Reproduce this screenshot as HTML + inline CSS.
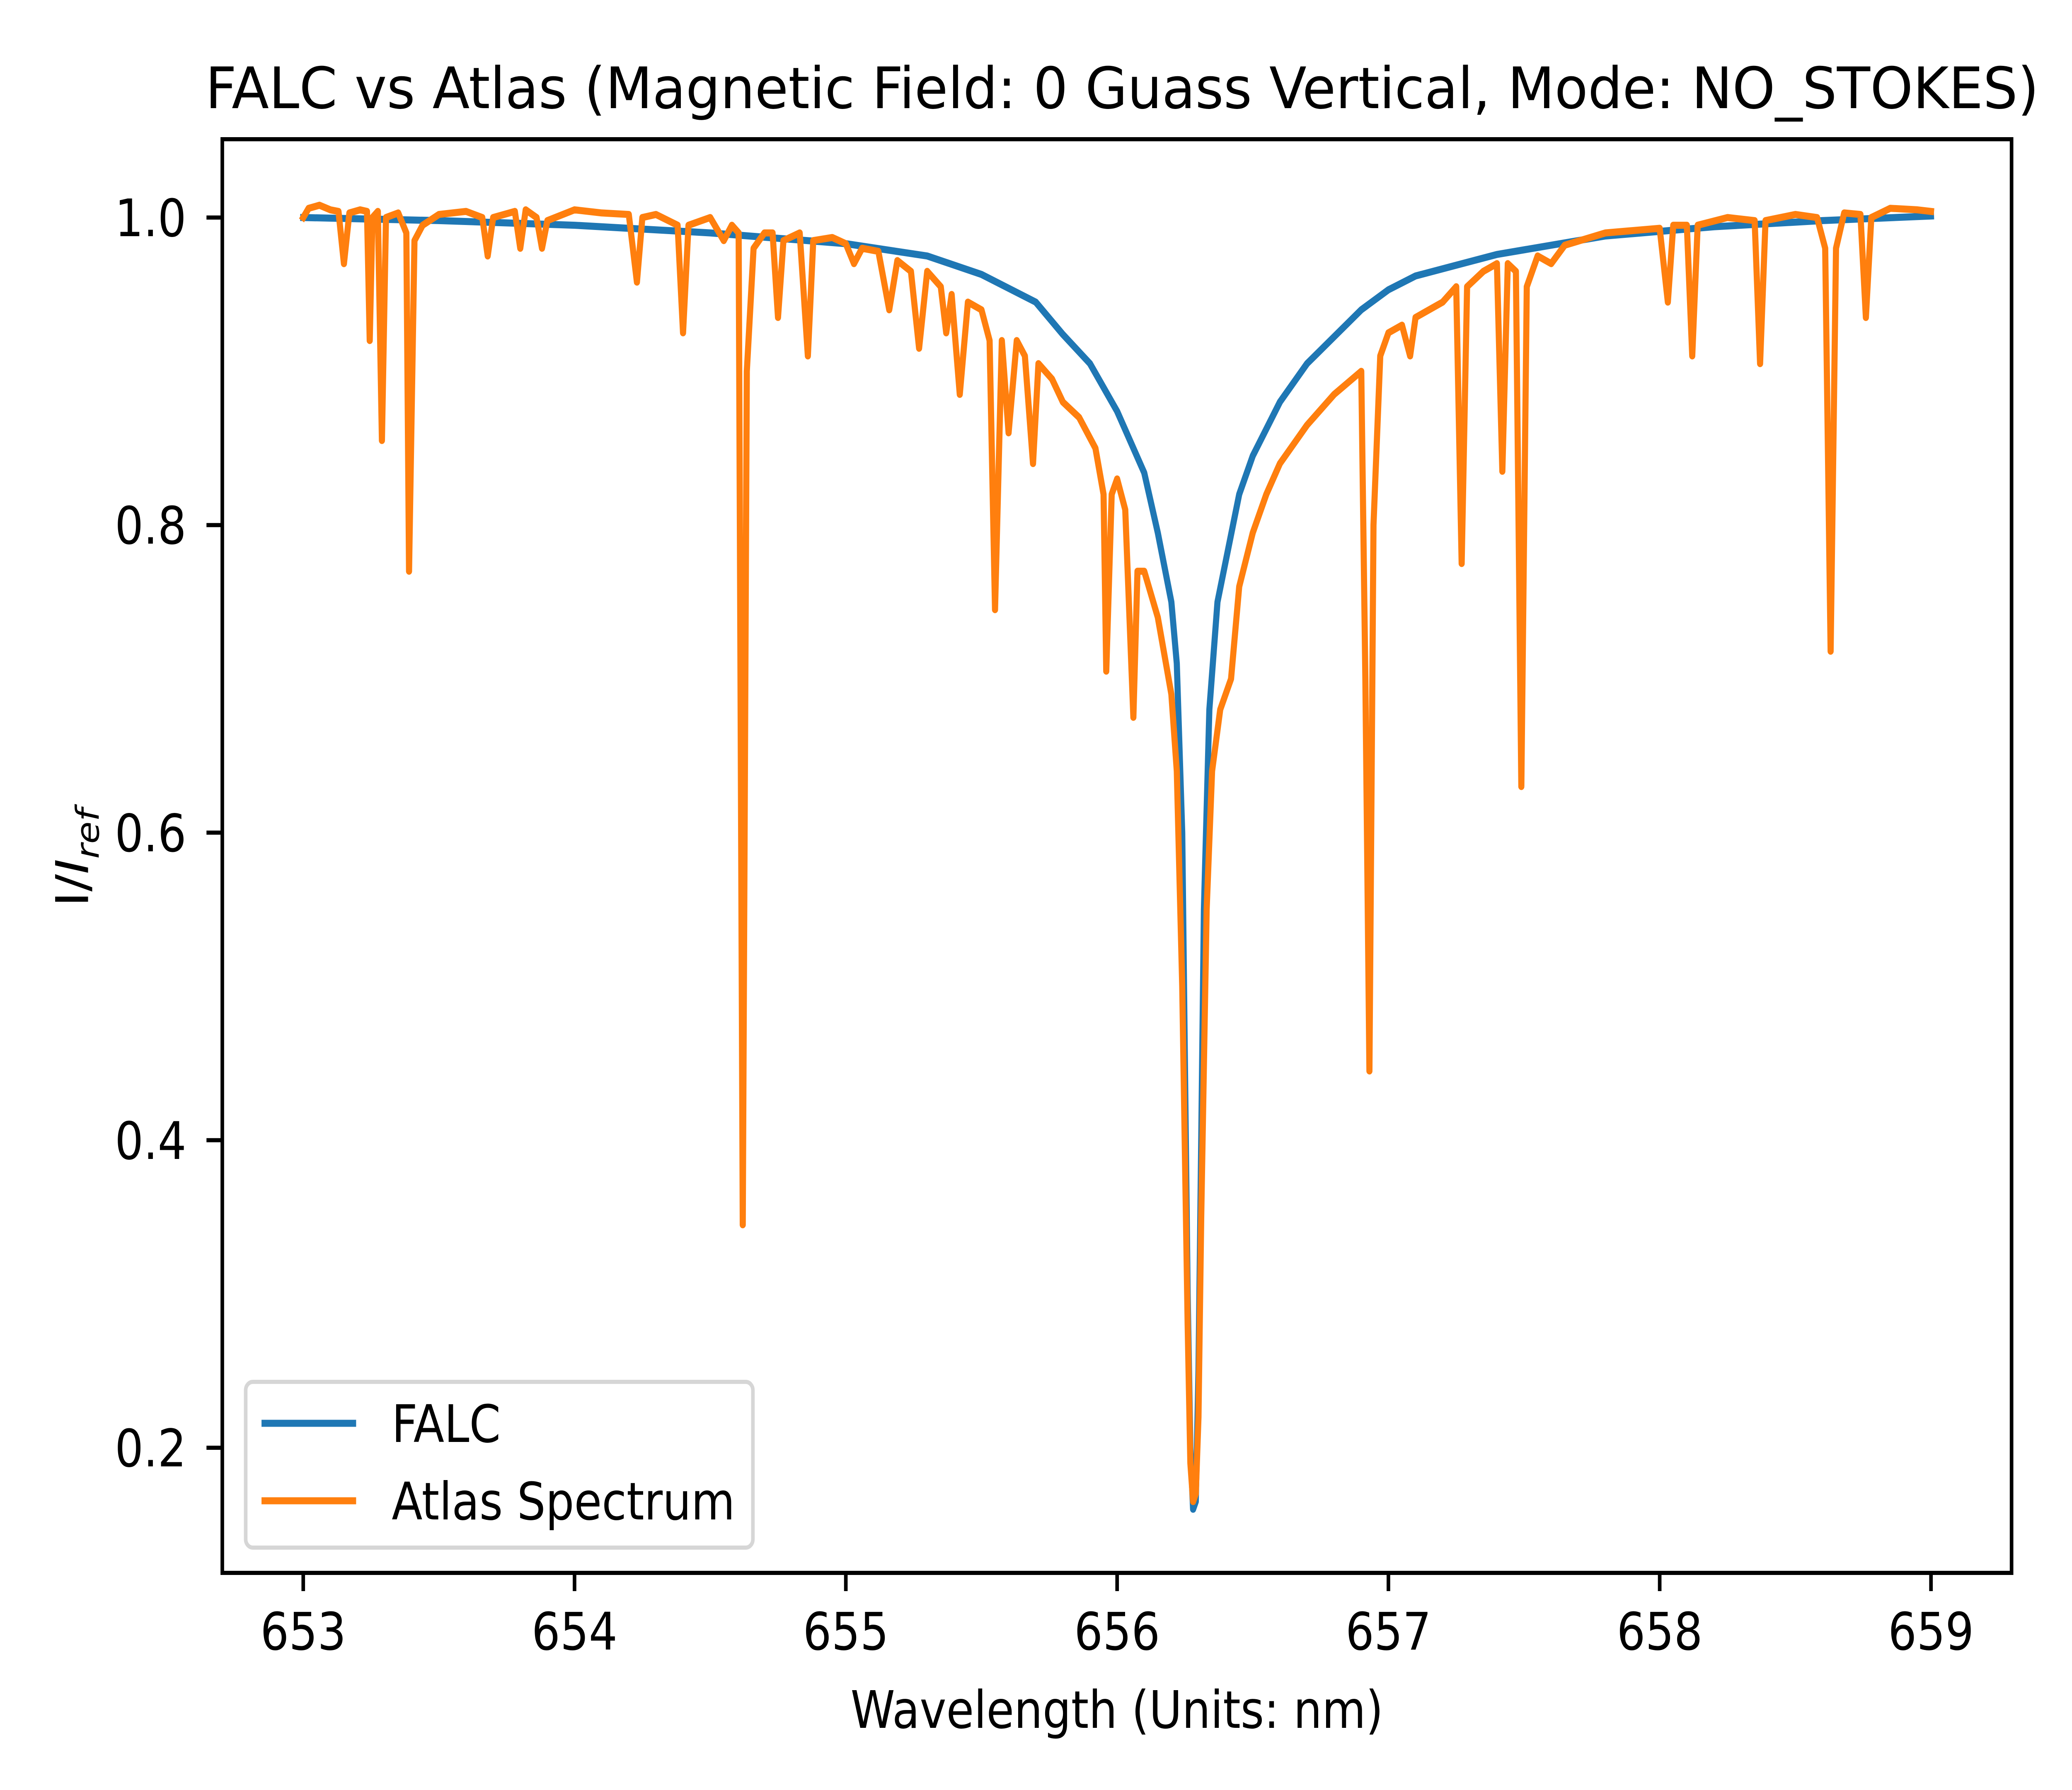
<!DOCTYPE html>
<html><head><meta charset="utf-8"><style>
html,body{margin:0;padding:0;background:#fff;width:100vw;height:100vh;overflow:hidden;}
svg{display:block;width:100vw;height:100vh;font-family:"DejaVu Sans","Liberation Sans",sans-serif;}
</style></head><body>
<svg id="chart" viewBox="0 0 5760 4320" preserveAspectRatio="none" xmlns="http://www.w3.org/2000/svg">
<rect x="0" y="0" width="5760" height="4320" fill="#fff"/>
<text x="571" y="261" font-size="138" textLength="5097" lengthAdjust="spacingAndGlyphs">FALC vs Atlas (Magnetic Field: 0 Guass Vertical, Mode: NO_STOKES)</text>
<g id="plot"></g>
<g id="axes"></g>
<rect x="618" y="336" width="4974" height="3460" fill="none" stroke="#000" stroke-width="10"/>
<text x="3105" y="4170" font-size="125" text-anchor="middle">Wavelength (Units: nm)</text>
<text transform="translate(245,2070) rotate(-90)" font-size="125" text-anchor="middle">I/<tspan font-style="italic">I</tspan><tspan font-style="italic" font-size="88" dy="30">ref</tspan></text>
<g>
<rect x="683" y="3335" width="1410" height="400" rx="20" fill="#fff" fill-opacity="0.8" stroke="#d6d6d6" stroke-width="10"/>
<line x1="727" y1="3435" x2="990" y2="3435" stroke="#1f77b4" stroke-width="17"/>
<text x="1089" y="3480" font-size="125">FALC</text>
<line x1="727" y1="3622" x2="990" y2="3622" stroke="#ff7f0e" stroke-width="17"/>
<text x="1089" y="3667" font-size="125">Atlas Spectrum</text>
</g>
</svg>
<script>
const xTicks=[653,654,655,656,657,658,659];
const yTicks=[0.2,0.4,0.6,0.8,1.0];
const yTickLabels=["0.2","0.4","0.6","0.8","1.0"];
const falcX=[653.0,653.5,654.0,654.5,655.0,655.3,655.5,655.7,655.8,655.9,656.0,656.1,656.15,656.2,656.22,656.24,656.25,656.26,656.27,656.28,656.29,656.30,656.31,656.32,656.34,656.37,656.45,656.5,656.6,656.7,656.9,657.0,657.1,657.4,657.8,658.2,658.6,659.0];
const falcY=[1.0,0.998,0.995,0.99,0.983,0.975,0.963,0.945,0.924,0.905,0.874,0.834,0.795,0.75,0.71,0.6,0.45,0.3,0.2,0.16,0.165,0.25,0.4,0.55,0.68,0.75,0.82,0.845,0.88,0.905,0.94,0.953,0.962,0.976,0.988,0.994,0.998,1.001];
const atlasX=[653.00,653.02,653.06,653.10,653.13,653.15,653.17,653.21,653.235,653.245,653.255,653.275,653.29,653.305,653.35,653.38,653.39,653.41,653.44,653.5,653.6,653.66,653.68,653.70,653.78,653.80,653.82,653.86,653.88,653.90,654.0,654.1,654.2,654.23,654.25,654.3,654.38,654.40,654.42,654.5,654.55,654.58,654.605,654.62,654.635,654.66,654.7,654.73,654.75,654.77,654.83,654.86,654.88,654.95,655.0,655.03,655.06,655.12,655.16,655.19,655.24,655.27,655.30,655.35,655.37,655.39,655.42,655.45,655.5,655.53,655.55,655.575,655.6,655.63,655.66,655.69,655.71,655.76,655.8,655.86,655.92,655.95,655.96,655.98,656.0,656.03,656.06,656.075,656.1,656.15,656.2,656.22,656.24,656.26,656.27,656.28,656.29,656.30,656.31,656.33,656.35,656.38,656.42,656.45,656.5,656.55,656.6,656.7,656.8,656.9,656.915,656.93,656.945,656.97,657.0,657.05,657.08,657.10,657.2,657.25,657.27,657.29,657.35,657.40,657.42,657.44,657.47,657.49,657.51,657.55,657.60,657.65,657.8,658.0,658.03,658.05,658.10,658.12,658.14,658.25,658.35,658.37,658.39,658.5,658.58,658.61,658.63,658.65,658.68,658.74,658.76,658.78,658.85,658.95,659.0];
const atlasY=[1.000,1.006,1.008,1.005,1.004,0.970,1.003,1.005,1.004,0.920,1.000,1.004,0.855,1.000,1.003,0.99,0.770,0.985,0.995,1.002,1.004,1.0,0.975,1.000,1.004,0.980,1.005,1.000,0.980,0.998,1.005,1.003,1.002,0.958,1.000,1.002,0.995,0.925,0.995,1.000,0.985,0.995,0.99,0.345,0.90,0.980,0.990,0.990,0.935,0.985,0.99,0.910,0.985,0.987,0.983,0.970,0.980,0.978,0.940,0.972,0.965,0.915,0.965,0.955,0.925,0.950,0.885,0.945,0.940,0.920,0.745,0.92,0.86,0.92,0.91,0.84,0.905,0.895,0.88,0.87,0.85,0.82,0.705,0.82,0.83,0.81,0.675,0.77,0.77,0.74,0.69,0.64,0.50,0.28,0.19,0.165,0.17,0.22,0.35,0.55,0.64,0.68,0.70,0.76,0.795,0.82,0.84,0.865,0.885,0.900,0.70,0.445,0.80,0.91,0.925,0.93,0.91,0.935,0.945,0.955,0.775,0.955,0.965,0.970,0.835,0.970,0.965,0.630,0.955,0.975,0.970,0.982,0.990,0.993,0.945,0.995,0.995,0.910,0.995,1.000,0.998,0.905,0.998,1.002,1.000,0.98,0.718,0.98,1.003,1.002,0.935,1.000,1.006,1.005,1.004];
const NS="http://www.w3.org/2000/svg";
const X0=618,X1=5592,Y0=336,Y1=3796;
function xs(v){return 843+(v-653)*(5368-843)/6;}
function ys(v){return 525+(1.0-v)*(3494-525)/0.8;}
const axes=document.getElementById('axes');
const plot=document.getElementById('plot');
function mk(tag,attrs){const e=document.createElementNS(NS,tag);for(const k in attrs)e.setAttribute(k,attrs[k]);return e;}
xTicks.forEach(t=>{
  const l=mk('line',{x1:xs(t),x2:xs(t),y1:Y1,y2:Y1+44,stroke:'#000','stroke-width':10});
  
  
  axes.appendChild(l);
  const tx=mk('text',{x:xs(t),y:3981,'font-size':125,'text-anchor':'middle'});
  
  
  tx.textContent=String(t);axes.appendChild(tx);
});
yTicks.forEach((t,i)=>{
  const l=mk('line',{x1:X0-44,x2:X0,y1:ys(t),y2:ys(t),stroke:'#000','stroke-width':10});
  
  
  axes.appendChild(l);
  const tx=mk('text',{x:518,y:ys(t)+45,'font-size':125,'text-anchor':'end'});
  
  
  tx.textContent=yTickLabels[i];axes.appendChild(tx);
});
function path(xa,ya,color,name){
  let d='';for(let i=0;i<xa.length;i++){d+=(i?'L':'M')+xs(xa[i]).toFixed(1)+' '+ys(ya[i]).toFixed(1);}
  const p=mk('path',{d:d,fill:'none',stroke:color,'stroke-width':17,'stroke-linejoin':'round','stroke-linecap':'square'});
  
  
  plot.appendChild(p);
}
path(falcX,falcY,'#1f77b4','falc-line');
path(atlasX,atlasY,'#ff7f0e','atlas-spectrum-line');
</script>
</body></html>
